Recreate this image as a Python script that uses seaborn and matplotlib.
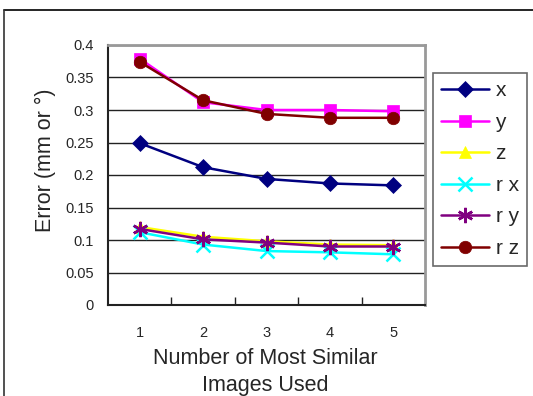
import numpy as np
import pandas as pd
import seaborn as sns
import matplotlib
matplotlib.use("Agg")
import matplotlib.pyplot as plt
from matplotlib.lines import Line2D

categories = ["1", "2", "3", "4", "5"]
x_err = [0.249, 0.212, 0.194, 0.187, 0.184]
y_err = [0.379, 0.312, 0.300, 0.300, 0.298]
z_err = [0.120, 0.105, 0.098, 0.093, 0.092]
rx_err = [0.112, 0.093, 0.083, 0.081, 0.078]
ry_err = [0.117, 0.101, 0.096, 0.090, 0.090]
rz_err = [0.374, 0.315, 0.294, 0.288, 0.288]

series_names = ["x", "y", "z", "r x", "r y", "r z"]
series_values = [x_err, y_err, z_err, rx_err, ry_err, rz_err]
colors = ["#000080", "#FF00FF", "#FFFF00", "#00FFFF", "#800080", "#800000"]
markers = ["D", "s", "^", "x", (6, 2, 0), "o"]
msizes = [8, 8, 9, 10, 11, 9]

rows = []
for name, vals in zip(series_names, series_values):
    for i, v in enumerate(vals):
        rows.append({"series": name, "pos": i, "value": v})
df = pd.DataFrame(rows)

sns.set_theme(style="white")
plt.rcParams["font.family"] = ["Liberation Sans", "DejaVu Sans"]

fig = plt.figure(figsize=(5.33, 3.96), dpi=100)
ax = fig.add_axes([108/533, 1-305/396, (425-108)/533, (305-45)/396])

handles = []
for name, col, mk, ms in zip(series_names, colors, markers, msizes):
    sub = df[df["series"] == name]
    mew = 1.8 if mk in ("x", (6, 2, 0)) else 0.5
    sns.lineplot(data=sub, x="pos", y="value", ax=ax, color=col, marker=mk,
                 markersize=ms, linewidth=1.8, markeredgecolor=col,
                 markeredgewidth=mew, legend=False, zorder=3)
    handles.append(Line2D([0], [0], color=col, marker=mk, markersize=ms,
                          markeredgecolor=col, markeredgewidth=mew,
                          linewidth=1.8, label=name))

ax.set_xlim(-0.5, 4.5)
ax.set_ylim(0, 0.4)
ax.set_yticks(np.arange(0, 0.401, 0.05))
ax.set_yticklabels(["0", "0.05", "0.1", "0.15", "0.2", "0.25", "0.3", "0.35", "0.4"], fontsize=10.5)
ax.yaxis.grid(True, color="#222222", linewidth=1.0)
ax.set_axisbelow(True)
ax.set_xticks(range(len(categories)))
ax.set_xticklabels(categories, fontsize=10.5)
ax.set_xticks(np.arange(0.5, 4.0, 1.0), minor=True)
ax.tick_params(axis="x", which="major", length=0, pad=15)
ax.tick_params(axis="x", which="minor", direction="in", length=6, width=1, color="#222222", bottom=True)
ax.tick_params(axis="y", length=0, pad=10)
ax.set_xlabel("")
ax.set_ylabel("")
for side in ["left", "bottom"]:
    ax.spines[side].set_color("#222222")
    ax.spines[side].set_linewidth(1.5)
for side in ["top", "right"]:
    ax.spines[side].set_color("#999999")
    ax.spines[side].set_linewidth(2)

fig.text(265/533, 1-359/396, "Number of Most Similar", ha="center", va="center", fontsize=15.5)
fig.text(265/533, 1-386/396, "Images Used", ha="center", va="center", fontsize=15.5)
fig.text(45/533, 1-160/396, "Error (mm or °)", ha="center", va="center", rotation=90, fontsize=15.5)

leg = fig.legend(handles=handles, loc="upper left", bbox_to_anchor=(433/533, 1-73/396),
                 fontsize=15, frameon=True, fancybox=False, handlelength=2.3,
                 labelspacing=0.6, borderpad=0.4, handletextpad=0.3, borderaxespad=0)
leg.get_frame().set_edgecolor("#444444")
leg.get_frame().set_linewidth(1.2)

fig.add_artist(Line2D([4/533, 1], [1-10/396, 1-10/396], color="black", linewidth=1.2, transform=fig.transFigure))
fig.add_artist(Line2D([4/533, 4/533], [0, 1-10/396], color="#333333", linewidth=1.2, transform=fig.transFigure))

fig.savefig("out.png", dpi=100)
